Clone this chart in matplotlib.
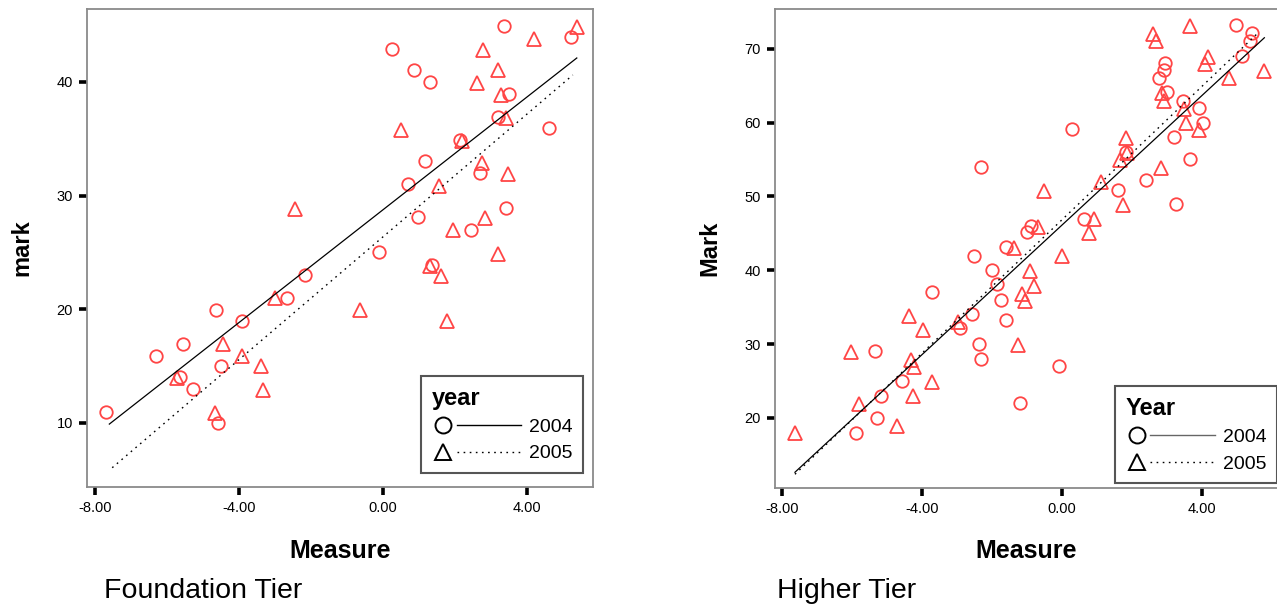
import numpy as np
import matplotlib
matplotlib.use("Agg")
import matplotlib.pyplot as plt
from matplotlib.lines import Line2D
from matplotlib.legend_handler import HandlerBase

plt.rcParams['font.family'] = ['Liberation Sans', 'DejaVu Sans']

# ---------------- data: Foundation tier ----------------
f04_x = [3.36, 0.24, 5.21, 0.87, 1.31, 3.51, 3.18, 4.62, 2.14, 1.17, 2.69, 0.68, 3.42, 0.96,
         2.44, -0.11, 1.35, -2.17, -2.66, -4.64, -3.92, -5.56, -6.31, -4.50, -5.64, -5.27,
         -7.68, -4.59]
f04_y = [44.9, 42.9, 43.9, 41.0, 40.0, 38.9, 36.9, 35.9, 34.9, 33.0, 32.0, 31.0, 28.9, 28.1,
         27.0, 25.0, 23.9, 23.0, 21.0, 19.9, 19.0, 16.95, 15.9, 15.0, 14.0, 13.0, 11.0, 10.0]
f05_x = [5.38, 4.19, 2.77, 3.18, 2.62, 3.27, 3.42, 0.49, 2.19, 2.74, 3.46, 1.56, -2.44, 2.82,
         1.95, 3.18, 1.31, 1.61, -2.99, -0.64, 1.77, -4.45, -3.92, -3.39, -5.73, -3.34, -4.66]
f05_y = [44.85, 43.8, 42.8, 41.0, 39.9, 38.85, 36.85, 35.8, 34.8, 32.9, 31.9, 30.8, 28.85, 28.0,
         26.95, 24.9, 23.8, 22.9, 21.0, 19.9, 19.0, 16.9, 15.9, 15.0, 13.95, 12.9, 10.9]
# fitted lines (intercept, slope) and x-span
f_fit04 = (28.75, 2.48)
f_fit05 = (26.37, 2.70)
f_span04 = (-7.6, 5.38)
f_span05 = (-7.52, 5.27)

# ---------------- data: Higher tier ----------------
h04_x = [4.97, 5.42, 5.37, 5.13, 2.95, 2.92, 2.76, 3.01, 3.47, 3.92, 4.04, 0.29, 3.21, 1.82,
         3.66, -2.32, 2.40, 1.61, 3.26, 0.64, -0.89, -1.01, -1.61, -2.51, -2.01, -1.87, -3.72,
         -1.75, -2.56, -1.60, -2.91, -2.36, -5.34, -2.31, -0.09, -4.56, -5.17, -5.28, -5.89, -1.20]
h04_y = [73.2, 72.1, 71.1, 69.05, 68.1, 67.1, 66.1, 64.1, 63.0, 62.05, 60.0, 59.2, 58.0, 56.0,
         55.1, 54.0, 52.2, 50.9, 48.96, 47.0, 46.06, 45.2, 43.1, 42.0, 40.1, 38.1, 37.0,
         36.0, 34.1, 33.2, 32.15, 30.0, 29.1, 27.95, 27.05, 25.0, 23.0, 20.0, 18.0, 22.07]
h05_x = [3.66, 2.61, 2.68, 4.18, 4.09, 4.78, 5.78, 2.85, 2.92, 3.49, 3.53, 3.92, 1.82, 1.87,
         1.66, 2.83, 1.11, -0.51, 1.73, 0.92, -0.69, 0.77, -1.36, -0.01, -0.91, -0.80, -1.15,
         -1.06, -4.36, -3.96, -2.96, -1.25, -6.03, -4.32, -4.23, -3.72, -4.27, -5.79, -4.72, -7.63]
h05_y = [73.1, 72.0, 71.0, 68.96, 67.97, 66.0, 67.0, 64.0, 62.95, 61.8, 59.9, 59.0, 57.9, 55.9,
         55.0, 53.8, 52.0, 50.8, 48.8, 46.9, 45.9, 45.0, 43.0, 41.9, 39.96, 37.9, 36.8,
         35.85, 33.8, 31.9, 33.05, 29.9, 28.9, 27.8, 26.9, 24.9, 22.9, 21.9, 18.96, 17.9]
h_fit04 = (46.13, 4.39)
h_fit05 = (46.85, 4.52)
h_span04 = (-7.63, 5.78)
h_span05 = (-7.63, 5.63)

x_ticks = [-8, -4, 0, 4]
x_ticklabels = ['-8.00', '-4.00', '0.00', '4.00']
f_yticks = [10, 20, 30, 40]
h_yticks = [20, 30, 40, 50, 60, 70]
years = ['2004', '2005']

RED = '#ff4545'
DOT = (0, (1.2, 3.2))

class Key:
    def __init__(self, marker, ls, lc):
        self.marker, self.ls, self.lc = marker, ls, lc

class KeyHandler(HandlerBase):
    def create_artists(self, legend, h, xdescent, ydescent, width, height, fontsize, trans):
        x0 = -xdescent
        y0 = -ydescent + height / 2.0
        ms = 11.5
        msz = ms * legend.figure.dpi / 72.0
        m = Line2D([x0 + msz / 2], [y0], marker=h.marker, ms=ms, mfc='none', mec='black',
                   mew=1.4, ls='none')
        ln = Line2D([x0 + msz + 2, x0 + width], [y0, y0], color=h.lc, lw=1.0, ls=h.ls)
        m.set_transform(trans)
        ln.set_transform(trans)
        return [m, ln]

fig = plt.figure(figsize=(12.77, 6.08), dpi=100)

def style(ax, yticks):
    for s in ax.spines.values():
        s.set_color('#8a8a8a')
        s.set_linewidth(1.3)
    ax.set_xticks(x_ticks)
    ax.set_xticklabels(x_ticklabels)
    ax.set_yticks(yticks)
    ax.tick_params(direction='out', length=6, width=2.6, color='black', labelsize=10.5, pad=4)

def panel(ax, x04, y04, x05, y05, fit04, fit05, span04, span05):
    ax.plot(x04, y04, ls='none', marker='o', ms=9, mfc='none', mec=RED, mew=1.3)
    ax.plot(x05, y05, ls='none', marker='^', ms=9.5, mfc='none', mec=RED, mew=1.3)
    xs = np.array(span04)
    ax.plot(xs, fit04[0] + fit04[1] * xs, color='black', lw=0.9)
    xs = np.array(span05)
    ax.plot(xs, fit05[0] + fit05[1] * xs, color='black', lw=1.0, ls=DOT)

def legend(ax, title, line_color, anchor, hl):
    leg = ax.legend([Key('o', '-', line_color), Key('^', DOT, 'black')], years,
                    handler_map={Key: KeyHandler()}, loc='lower right',
                    bbox_to_anchor=anchor, borderaxespad=0, title=title, alignment='left',
                    title_fontproperties={'weight': 'bold', 'size': 17}, fontsize=14,
                    handlelength=hl, handletextpad=0.4, labelspacing=0.45,
                    borderpad=0.55, fancybox=False, framealpha=1)
    leg.get_frame().set_edgecolor('#555555')
    leg.get_frame().set_linewidth(1.5)
    return leg

# ---- left ----
axL = fig.add_axes([87 / 1277, 121 / 608, 506 / 1277, 478 / 608])
panel(axL, f04_x, f04_y, f05_x, f05_y, f_fit04, f_fit05, f_span04, f_span05)
axL.set_xlim(-8.22, 5.83)
axL.set_ylim(4.37, 46.4)
style(axL, f_yticks)
axL.set_ylabel('mark', fontsize=17, fontweight='bold', labelpad=17)
axL.set_xlabel('Measure', fontsize=18, fontweight='bold', labelpad=17)
legend(axL, 'year', 'black', (0.981, 0.029), 4.6)

# ---- right ----
axR = fig.add_axes([775 / 1277, 120 / 608, 503 / 1277, 479 / 608])
panel(axR, h04_x, h04_y, h05_x, h05_y, h_fit04, h_fit05, h_span04, h_span05)
axR.set_xlim(-8.2, 6.17)
axR.set_ylim(10.5, 75.4)
style(axR, h_yticks)
axR.set_ylabel('Mark', fontsize=17, fontweight='bold', labelpad=17)
axR.set_xlabel('Measure', fontsize=18, fontweight='bold', labelpad=17)
legend(axR, 'Year', '#666666', (0.998, 0.01), 4.6)

fig.text(104 / 1277, 1 - 591 / 608, 'Foundation Tier', fontsize=20.5, va='center', ha='left')
fig.text(777 / 1277, 1 - 591 / 608, 'Higher Tier', fontsize=20.5, va='center', ha='left')

fig.savefig('out.png', dpi=100)
